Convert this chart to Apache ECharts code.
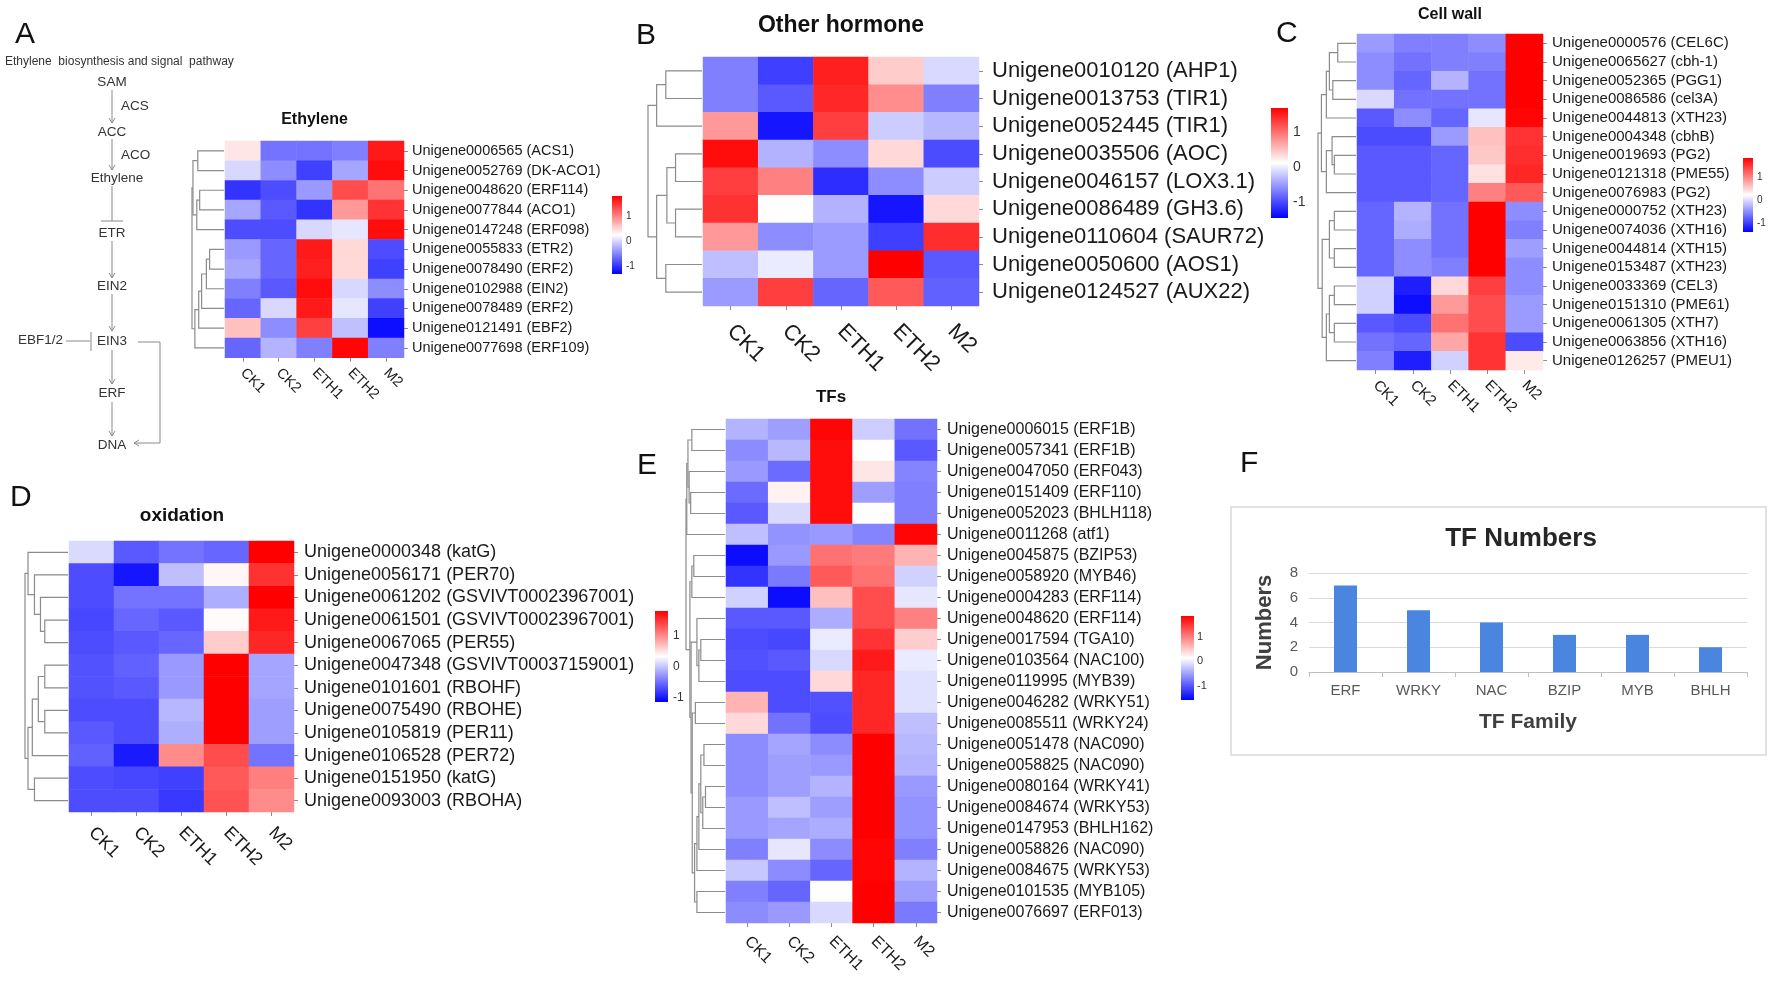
<!DOCTYPE html>
<html><head><meta charset="utf-8">
<script src="https://cdn.jsdelivr.net/npm/echarts@6/dist/echarts.min.js"></script>
<style>html,body{margin:0;padding:0;background:#fff}#c{width:1772px;height:982px}</style>
</head><body><div id="c"></div>
<script>
// ---------------- DATA ----------------
const samples = ['CK1','CK2','ETH1','ETH2','M2'];
const colorbarTicks = [-1, 0, 1];

const ethyleneGenes = ['Unigene0006565 (ACS1)','Unigene0052769 (DK-ACO1)','Unigene0048620 (ERF114)','Unigene0077844 (ACO1)','Unigene0147248 (ERF098)','Unigene0055833 (ETR2)','Unigene0078490 (ERF2)','Unigene0102988 (EIN2)','Unigene0078489 (ERF2)','Unigene0121491 (EBF2)','Unigene0077698 (ERF109)'];
const ethyleneValues = [
 [0.39,-0.62,-0.62,-0.54,1.64],
 [0.00,-0.46,-0.93,-0.31,1.71],
 [-1.01,-0.85,-0.39,1.32,1.09],
 [-0.31,-0.78,-1.01,0.86,1.48],
 [-0.85,-0.85,0.00,0.08,1.71],
 [-0.39,-0.70,1.63,0.47,-0.85],
 [-0.31,-0.70,1.60,0.47,-0.93],
 [-0.54,-0.78,1.71,0.00,-0.46],
 [-0.70,0.00,1.63,0.08,-0.93],
 [0.62,-0.46,1.40,-0.15,-1.24],
 [-0.70,-0.23,-0.54,1.76,-0.54]];
const ethyleneRange = [-1.32, 1.79];
const ethyleneTree = [[0,1,0.82],[2,3,0.76],['m1',4,0.85],['m0','m2',0.97],[5,6,0.45],['m4',7,0.55],['m5',8,0.70],['m6',9,0.79],['m7',10,0.91],['m3','m8',1.0]];

const hormoneGenes = ['Unigene0010120 (AHP1)','Unigene0013753 (TIR1)','Unigene0052445 (TIR1)','Unigene0035506 (AOC)','Unigene0046157 (LOX3.1)','Unigene0086489 (GH3.6)','Unigene0110604 (SAUR72)','Unigene0050600 (AOS1)','Unigene0124527 (AUX22)'];
const hormoneValues = [
 [-0.67,-1.07,1.50,0.43,-0.12],
 [-0.67,-0.91,1.45,0.82,-0.67],
 [0.75,-1.33,1.30,-0.20,-0.33],
 [1.61,-0.36,-0.59,0.35,-0.99],
 [1.30,0.90,-1.18,-0.59,-0.20],
 [1.38,0.12,-0.36,-1.33,0.35],
 [0.75,-0.59,-0.51,-1.07,1.41],
 [-0.28,-0.01,-0.51,1.69,-0.91],
 [-0.51,1.30,-0.83,1.14,-0.86]];
const hormoneRange = [-1.46, 1.69];
const hormoneTree = [[0,1,0.67],['m0',2,0.84],[3,4,0.49],[5,6,0.49],['m2','m3',0.65],[7,8,0.67],['m4','m5',0.84],['m1','m6',1.0]];

const cellWallGenes = ['Unigene0000576 (CEL6C)','Unigene0065627 (cbh-1)','Unigene0052365 (PGG1)','Unigene0086586 (cel3A)','Unigene0044813 (XTH23)','Unigene0004348 (cbhB)','Unigene0019693 (PG2)','Unigene0121318 (PME55)','Unigene0076983 (PG2)','Unigene0000752 (XTH23)','Unigene0074036 (XTH16)','Unigene0044814 (XTH15)','Unigene0153487 (XTH23)','Unigene0033369 (CEL3)','Unigene0151310 (PME61)','Unigene0061305 (XTH7)','Unigene0063856 (XTH16)','Unigene0126257 (PMEU1)'];
const cellWallValues = [
 [-0.42,-0.58,-0.58,-0.50,1.83],
 [-0.50,-0.67,-0.58,-0.58,1.83],
 [-0.50,-0.75,-0.26,-0.67,1.83],
 [-0.02,-0.67,-0.67,-0.67,1.83],
 [-0.83,-0.50,-0.75,0.06,1.80],
 [-0.91,-0.91,-0.42,0.62,1.51],
 [-0.83,-0.83,-0.75,0.57,1.54],
 [-0.83,-0.83,-0.75,0.41,1.59],
 [-0.83,-0.83,-0.75,1.02,1.27],
 [-0.75,-0.26,-0.67,1.83,-0.50],
 [-0.75,-0.30,-0.67,1.83,-0.58],
 [-0.75,-0.50,-0.67,1.83,-0.39],
 [-0.75,-0.50,-0.58,1.83,-0.50],
 [-0.07,-1.20,0.46,1.43,-0.50],
 [-0.07,-1.31,0.86,1.35,-0.42],
 [-0.83,-0.91,1.11,1.35,-0.42],
 [-0.67,-0.75,0.78,1.51,-0.91],
 [-0.58,-1.20,-0.07,1.51,0.35]];
const cellWallRange = [-1.39, 1.83];
const cellWallTree = [[0,1,0.48],[2,3,0.61],['m0','m1',0.70],['m2',4,0.78],[6,7,0.57],[5,'m4',0.63],['m5',8,0.78],['m3','m6',0.91],[9,10,0.57],[11,12,0.57],['m8','m9',0.70],[13,14,0.57],[15,16,0.57],['m11','m12',0.70],['m13',17,0.78],['m10','m14',0.89],['m7','m15',1.0]];

const oxidationGenes = ['Unigene0000348 (katG)','Unigene0056171 (PER70)','Unigene0061202 (GSVIVT00023967001)','Unigene0061501 (GSVIVT00023967001)','Unigene0067065 (PER55)','Unigene0047348 (GSVIVT00037159001)','Unigene0101601 (RBOHF)','Unigene0075490 (RBOHE)','Unigene0105819 (PER11)','Unigene0106528 (PER72)','Unigene0151950 (katG)','Unigene0093003 (RBOHA)'];
const oxidationValues = [
 [0.12,-0.62,-0.47,-0.54,1.80],
 [-0.69,-1.01,-0.03,0.38,1.51],
 [-0.69,-0.47,-0.47,-0.13,1.80],
 [-0.72,-0.54,-0.62,0.36,1.65],
 [-0.69,-0.62,-0.54,0.63,1.58],
 [-0.66,-0.57,-0.25,1.80,-0.18],
 [-0.66,-0.62,-0.25,1.80,-0.18],
 [-0.69,-0.69,-0.08,1.80,-0.22],
 [-0.62,-0.69,-0.13,1.80,-0.22],
 [-0.57,-0.98,1.00,1.36,-0.47],
 [-0.69,-0.72,-0.76,1.29,1.07],
 [-0.69,-0.69,-0.81,1.33,1.00]];
const oxidationRange = [-1.13, 1.80];
const oxidationTree = [[3,4,0.54],[2,'m0',0.64],[1,'m1',0.78],[0,'m2',0.93],[5,6,0.54],[7,8,0.54],['m4','m5',0.69],['m6',9,0.83],[10,11,0.78],['m7','m8',0.93],['m3','m9',1.0]];

const tfGenes = ['Unigene0006015 (ERF1B)','Unigene0057341 (ERF1B)','Unigene0047050 (ERF043)','Unigene0151409 (ERF110)','Unigene0052023 (BHLH118)','Unigene0011268 (atf1)','Unigene0045875 (BZIP53)','Unigene0058920 (MYB46)','Unigene0004283 (ERF114)','Unigene0048620 (ERF114)','Unigene0017594 (TGA10)','Unigene0103564 (NAC100)','Unigene0119995 (MYB39)','Unigene0046282 (WRKY51)','Unigene0085511 (WRKY24)','Unigene0051478 (NAC090)','Unigene0058825 (NAC090)','Unigene0080164 (WRKY41)','Unigene0084674 (WRKY53)','Unigene0147953 (BHLH162)','Unigene0058826 (NAC090)','Unigene0084675 (WRKY53)','Unigene0101535 (MYB105)','Unigene0076697 (ERF013)'];
const tfValues = [
 [-0.37,-0.51,1.80,-0.20,-0.80],
 [-0.63,-0.34,1.75,0.14,-0.97],
 [-0.54,-0.85,1.75,0.30,-0.68],
 [-0.85,0.22,1.75,-0.51,-0.71],
 [-0.97,-0.12,1.75,0.14,-0.71],
 [-0.29,-0.58,-0.54,-0.68,1.80],
 [-1.48,-0.54,1.07,1.02,0.64],
 [-1.22,-0.75,1.24,1.07,-0.17],
 [-0.17,-1.48,0.56,1.32,-0.03],
 [-0.97,-0.97,-0.41,1.32,0.98],
 [-1.05,-1.09,0.00,1.49,0.47],
 [-1.02,-0.97,-0.12,1.66,0.00],
 [-1.05,-1.05,0.39,1.58,-0.07],
 [0.64,-1.05,-1.02,1.58,-0.07],
 [0.39,-0.80,-1.05,1.58,-0.29],
 [-0.63,-0.46,-0.63,1.83,-0.34],
 [-0.63,-0.51,-0.54,1.83,-0.37],
 [-0.63,-0.51,-0.37,1.83,-0.54],
 [-0.54,-0.29,-0.51,1.83,-0.58],
 [-0.54,-0.46,-0.41,1.83,-0.58],
 [-0.71,-0.03,-0.63,1.80,-0.71],
 [-0.24,-0.63,-0.88,1.80,-0.37],
 [-0.71,-0.88,0.14,1.83,-0.51],
 [-0.63,-0.54,-0.12,1.83,-0.75]];
const tfRange = [-1.56, 1.83];
const tfTree = [[0,1,0.85],[3,4,0.88],[2,'m1',0.92],['m0','m2',0.95],['m3',5,0.98],[6,7,0.80],['m5',8,0.85],[10,11,0.62],['m7',12,0.67],[9,'m8',0.72],[13,14,0.76],[15,16,0.54],[17,18,0.50],['m12',19,0.57],['m11','m13',0.62],['m14',20,0.67],['m15',21,0.72],[22,23,0.72],['m16','m17',0.78],['m10','m18',0.84],['m9','m19',0.87],['m6','m20',0.90],['m4','m21',1.0]];

const tfFamilies = ['ERF','WRKY','NAC','BZIP','MYB','BHLH'];
const tfCounts = [7, 5, 4, 3, 3, 2];

// ---------------- LAYOUT ----------------
const FF = '"Liberation Sans", Arial, Helvetica, sans-serif';
const panels = [
 {title:'Ethylene', genes:ethyleneGenes, values:ethyleneValues, range:ethyleneRange, tree:ethyleneTree,
  x:225, y:141, w:179, h:216.7, treeX:192, fs:14.5, ym:8, xm:13, tx:314.5, ty:120, tfs:16,
  cb:{x:612, y:196, w:10, h:78, fs:10, m:4}},
 {title:'Other hormone', genes:hormoneGenes, values:hormoneValues, range:hormoneRange, tree:hormoneTree,
  x:703, y:57, w:276, h:249, treeX:648, fs:22, ym:13, xm:22, tx:841, ty:26, tfs:23,
  cb:{x:1271, y:108, w:17, h:110, fs:14, m:5}},
 {title:'Cell wall', genes:cellWallGenes, values:cellWallValues, range:cellWallRange, tree:cellWallTree,
  x:1357, y:34, w:186, h:336, treeX:1318, fs:15, ym:9, xm:13, tx:1450, ty:15, tfs:16,
  cb:{x:1743, y:158, w:10, h:74, fs:10, m:4}},
 {title:'oxidation', genes:oxidationGenes, values:oxidationValues, range:oxidationRange, tree:oxidationTree,
  x:69, y:541, w:225, h:271, treeX:25, fs:18, ym:10, xm:18, tx:182, ty:516, tfs:19,
  cb:{x:655, y:611, w:13, h:91, fs:12, m:5}},
 {title:'TFs', genes:tfGenes, values:tfValues, range:tfRange, tree:tfTree,
  x:726, y:419, w:211, h:504, treeX:686, fs:16, ym:10, xm:16, tx:831, ty:397, tfs:17,
  cb:{x:1181, y:616, w:13, h:84, fs:11, m:3}}
];

// ---------------- BUILD ----------------
const option = {animation:false, backgroundColor:'#ffffff', textStyle:{fontFamily:FF},
  grid:[], xAxis:[], yAxis:[], series:[], visualMap:[]};
const gfx = [];
const TXT = (text, x, y, fs, opts={}) => ({type:'text', x, y, silent:true, style:Object.assign({
  text, fontSize:fs, fontFamily:FF, fill:'#222', align:'center', verticalAlign:'middle',
  textAlign:'center', textVerticalAlign:'middle'}, opts)});

function treeSegments(merges){
  const pos = [];
  const get = k => typeof k === 'number' ? {y:k, h:0} : pos[+k.slice(1)];
  return merges.map(([a,b,H], i) => {
    const A = get(a), B = get(b);
    pos[i] = {y:(A.y + B.y) / 2, h:H};
    return [A.y, A.h, B.y, B.h, H];
  });
}
function addGrid(g){ option.grid.push(Object.assign({containLabel:false}, g)); return option.grid.length - 1; }
const tick = {show:true, alignWithLabel:true, length:4, lineStyle:{color:'#8c8c8c', width:1}};

panels.forEach(p => {
  const gi = addGrid({left:p.x, top:p.y, width:p.w, height:p.h});
  const xi = option.xAxis.push({type:'category', gridIndex:gi, data:samples,
    axisLine:{show:false}, axisTick:tick, splitLine:{show:false},
    axisLabel:{rotate:-45, interval:0, fontSize:p.fs, color:'#1a1a1a', margin:p.xm, fontFamily:FF}}) - 1;
  const yi = option.yAxis.push({type:'category', gridIndex:gi, data:p.genes, inverse:true, position:'right',
    axisLine:{show:false}, axisTick:tick, splitLine:{show:false},
    axisLabel:{interval:0, fontSize:p.fs, color:'#1a1a1a', margin:p.ym, fontFamily:FF}}) - 1;
  const data = [];
  p.values.forEach((row, r) => row.forEach((v, c) => data.push([c, r, v])));
  const si = option.series.push({type:'heatmap', xAxisIndex:xi, yAxisIndex:yi, data,
    emphasis:{disabled:true}, progressive:0, silent:true}) - 1;
  option.visualMap.push({type:'continuous', show:false, seriesIndex:si, dimension:2,
    min:p.range[0], max:p.range[1], inRange:{color:['#0000FF','#FFFFFF','#FF0000']}});

  // dendrogram
  const tg = addGrid({left:p.treeX, top:p.y, width:p.x - p.treeX - 1, height:p.h});
  const tx = option.xAxis.push({type:'value', gridIndex:tg, min:0, max:1, inverse:true, show:false}) - 1;
  const ty = option.yAxis.push({type:'value', gridIndex:tg, min:-0.5, max:p.genes.length - 0.5, inverse:true, show:false}) - 1;
  option.series.push({type:'custom', xAxisIndex:tx, yAxisIndex:ty, data:treeSegments(p.tree),
    encode:{x:1, y:0}, clip:false, silent:true,
    renderItem:(params, api) => {
      const ya = api.value(0), ha = api.value(1), yb = api.value(2), hb = api.value(3), H = api.value(4);
      return {type:'polyline', shape:{points:[api.coord([ha, ya]), api.coord([H, ya]), api.coord([H, yb]), api.coord([hb, yb])]},
        style:{stroke:'#8c8c8c', lineWidth:1.2, fill:null}};
    }});

  // colour bar
  const cg = addGrid({left:p.cb.x, top:p.cb.y, width:p.cb.w, height:p.cb.h});
  const cx = option.xAxis.push({type:'value', gridIndex:cg, min:0, max:1, show:false}) - 1;
  const cy = option.yAxis.push({type:'value', gridIndex:cg, min:p.range[0], max:p.range[1], position:'right',
    axisLine:{show:false}, axisTick:{show:false}, splitLine:{show:false},
    axisLabel:{customValues:colorbarTicks, fontSize:p.cb.fs, color:'#333', margin:p.cb.m, fontFamily:FF}}) - 1;
  const rng = p.range;
  option.series.push({type:'custom', xAxisIndex:cx, yAxisIndex:cy, data:[[0, rng[0]]], clip:false, silent:true,
    renderItem:(params, api) => {
      const a = api.coord([0, rng[1]]), b = api.coord([1, rng[0]]);
      return {type:'rect', shape:{x:a[0], y:a[1], width:b[0] - a[0], height:b[1] - a[1]},
        style:{fill:new echarts.graphic.LinearGradient(0, 0, 0, 1, [
          {offset:0, color:'#FF0000'}, {offset:0.5, color:'#FFFFFF'}, {offset:1, color:'#0000FF'}])}};
    }});

  gfx.push(TXT(p.title, p.tx, p.ty, p.tfs, {fontWeight:'bold', fill:'#111'}));
});

// Panel F bar chart
const fg = addGrid({left:1309, top:573, width:438, height:99});
const fx = option.xAxis.push({type:'category', gridIndex:fg, data:tfFamilies,
  axisLine:{lineStyle:{color:'#bfbfbf'}}, axisTick:{show:true, length:5, lineStyle:{color:'#bfbfbf'}},
  axisLabel:{fontSize:15, color:'#595959', margin:11, fontFamily:FF},
  name:'TF Family', nameLocation:'middle', nameGap:40,
  nameTextStyle:{fontSize:21, fontWeight:'bold', color:'#404040', fontFamily:FF}}) - 1;
const fy = option.yAxis.push({type:'value', gridIndex:fg, min:0, max:8, interval:2,
  axisLine:{show:false}, axisTick:{show:false}, splitLine:{lineStyle:{color:'#d9d9d9'}},
  axisLabel:{fontSize:15, color:'#595959', margin:11, fontFamily:FF},
  name:'Numbers', nameLocation:'middle', nameGap:33, nameRotate:90,
  nameTextStyle:{fontSize:22, fontWeight:'bold', color:'#404040', fontFamily:FF}}) - 1;
option.series.push({type:'bar', xAxisIndex:fx, yAxisIndex:fy, data:tfCounts, barWidth:23,
  itemStyle:{color:'#4a86e0'}, silent:true});
gfx.push({type:'rect', shape:{x:1231, y:507, width:535, height:248}, silent:true,
  style:{fill:null, stroke:'#d9d9d9', lineWidth:1.5}});
gfx.push(TXT('TF Numbers', 1521, 539, 26, {fontWeight:'bold', fill:'#262626'}));

// Panel letters
[['A',15,35],['B',636,36],['C',1276,34],['D',10,498],['E',637,466],['F',1240,464]].forEach(([t,x,y]) =>
  gfx.push(TXT(t, x, y, 30, {align:'left', textAlign:'left', fill:'#111'})));

// Pathway diagram (panel A)
const LC = '#8a8a8a';
const line = (x1,y1,x2,y2) => ({type:'line', silent:true, shape:{x1,y1,x2,y2}, style:{stroke:LC, lineWidth:1}});
const poly = pts => ({type:'polyline', silent:true, shape:{points:pts}, style:{stroke:LC, lineWidth:1, fill:null}});
const down = (x,y1,y2) => { gfx.push(line(x,y1,x,y2)); gfx.push(poly([[x-3,y2-5],[x,y2],[x+3,y2-5]])); };
gfx.push(TXT('Ethylene  biosynthesis and signal  pathway', 5, 62, 12, {align:'left', textAlign:'left', fill:'#333'}));
[['SAM',112,82],['ACC',112,132],['Ethylene',117,178],['ETR',112,233],['EIN2',112,286],['EIN3',112,341],['ERF',112,393],['DNA',112,445]]
  .forEach(([t,x,y]) => gfx.push(TXT(t, x, y, 13.5, {fill:'#333'})));
gfx.push(TXT('ACS', 121, 106, 13.5, {align:'left', textAlign:'left', fill:'#333'}));
gfx.push(TXT('ACO', 121, 155, 13.5, {align:'left', textAlign:'left', fill:'#333'}));
gfx.push(TXT('EBF1/2', 63, 340, 13.5, {align:'right', textAlign:'right', fill:'#333'}));
down(112, 90, 123);
down(112, 139, 170);
gfx.push(line(112, 186, 112, 221)); gfx.push(line(101, 221, 123, 221));
down(112, 241, 278);
down(112, 294, 331);
gfx.push(line(66, 341, 90, 341)); gfx.push(line(91, 332, 91, 351));
down(112, 350, 384);
down(112, 402, 436);
gfx.push(poly([[138,342],[160,342],[160,443],[134,443]]));
gfx.push(poly([[139,440],[134,443],[139,446]]));

option.graphic = {elements:gfx};

const chart = echarts.init(document.getElementById('c'), null, {renderer:'canvas', width:1772, height:982});
chart.setOption(option);
</script>
</body></html>
